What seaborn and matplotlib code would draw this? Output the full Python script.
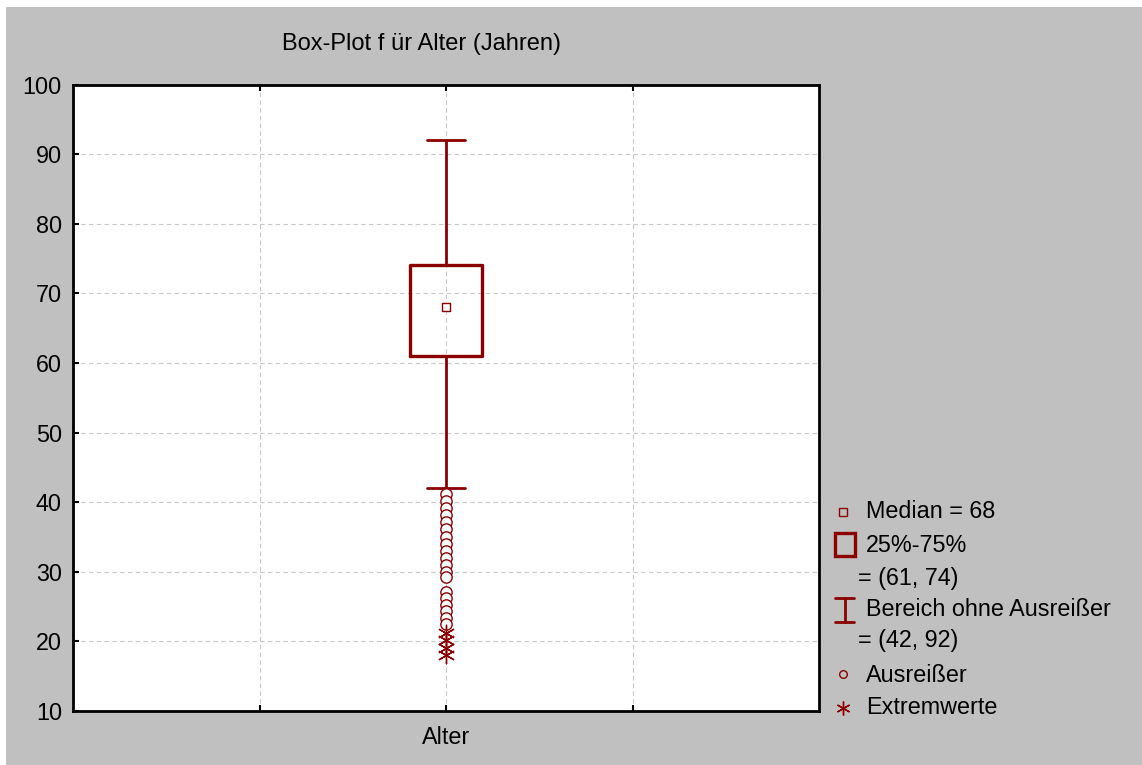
import matplotlib
matplotlib.use("Agg")
import matplotlib.pyplot as plt
from matplotlib.patches import Rectangle
import seaborn as sns
import pandas as pd

# ---- data ----
categories = ["Alter"]
median = 68
q1, q3 = 61, 74
whisker_low, whisker_high = 42, 92
outliers = [41.2, 40.2, 39.2, 38.2, 37.2, 36.1, 35.0, 34.0, 33.0, 32.0, 31.0,
            30.0, 29.2, 27.1, 26.2, 25.2, 24.3, 23.3, 22.5]
extremes = [21.2, 20.2, 19.0, 18.0]
yticks = [10, 20, 30, 40, 50, 60, 70, 80, 90, 100]

title = "Box-Plot f ür Alter (Jahren)"
legend_lines = ["Median = 68", "25%-75%", "= (61, 74)", "Bereich ohne Ausreißer",
                "= (42, 92)", "Ausreißer", "Extremwerte"]

RED = "#8B0000"
GRAY_BG = "#c0c0c0"
FS = 16.8

sns.set_style("white")
plt.rcParams["font.family"] = ["Liberation Sans", "DejaVu Sans"]

W, H = 1142, 765
fig = plt.figure(figsize=(W / 100, H / 100), dpi=100)
fig.patch.set_facecolor("white")
fig.patches.append(Rectangle((6 / W, 0), 1 - 6 / W, 1 - 7 / H, transform=fig.transFigure,
                             facecolor=GRAY_BG, edgecolor="none", zorder=-10))

ax = fig.add_axes([73 / W, 1 - 711 / H, (819 - 73) / W, (711 - 84.5) / H])
ax.set_facecolor("white")

# box + whiskers
stats = [dict(med=median, q1=q1, q3=q3, whislo=whisker_low, whishi=whisker_high,
              fliers=[], label=categories[0])]
ax.bxp(stats, positions=[0], widths=0.39, capwidths=0.2, showfliers=False,
       boxprops=dict(color=RED, linewidth=2.4),
       whiskerprops=dict(color=RED, linewidth=2.0),
       capprops=dict(color=RED, linewidth=2.0),
       medianprops=dict(linewidth=0), zorder=3)

# median marker, outliers, extremes via seaborn
df_med = pd.DataFrame({"x": [0], "y": [median]})
sns.scatterplot(data=df_med, x="x", y="y", ax=ax, marker="s", s=40,
                facecolor="white", edgecolor=RED, linewidth=1.0, zorder=5)
df_out = pd.DataFrame({"x": [0] * len(outliers), "y": outliers})
sns.scatterplot(data=df_out, x="x", y="y", ax=ax, marker="o", s=66,
                facecolor="white", edgecolor=RED, linewidth=1.0, zorder=5)
df_ext = pd.DataFrame({"x": [0] * len(extremes), "y": extremes})
sns.scatterplot(data=df_ext, x="x", y="y", ax=ax, marker=(6, 2, 0), s=140,
                color=RED, linewidth=1.0, zorder=5)

ax.set_xlim(-2, 2)
ax.set_ylim(10, 100)
ax.set_yticks(yticks)
ax.set_yticklabels([str(t) for t in yticks])
ax.set_xticks([-1, 0, 1])
ax.set_xticklabels(["", categories[0], ""])
ax.set_xlabel("")
ax.set_ylabel("")
ax.grid(True, color="#c8c8c8", linestyle=(0, (4, 3)), linewidth=0.8)
ax.set_axisbelow(True)
ax.tick_params(axis="both", direction="in", length=4, width=1.5, colors="black",
               labelsize=FS, pad=8, top=True, bottom=True, left=True, right=False)
ax.tick_params(axis="x", pad=11)
for s in ax.spines.values():
    s.set_color("black")
    s.set_linewidth(2.0)
    s.set_visible(True)

fig.text(421 / W, 1 - 44 / H, title, ha="center", va="center", fontsize=17, color="black")

# legend in pixel coordinates
lg = fig.add_axes([0, 0, 1, 1], facecolor="none")
lg.set_xlim(0, W)
lg.set_ylim(H, 0)
lg.axis("off")
lg.plot([843], [512], marker="s", markersize=6, markerfacecolor="none",
        markeredgecolor=RED, markeredgewidth=1.0, linestyle="none")
lg.add_patch(Rectangle((835, 533), 20, 23, facecolor="none", edgecolor=RED, linewidth=2.4))
lg.plot([844.5, 844.5], [598, 622], color=RED, linewidth=2.0)
lg.plot([835, 854], [598, 598], color=RED, linewidth=2.0)
lg.plot([835, 854], [622, 622], color=RED, linewidth=2.0)
lg.plot([843], [674], marker="o", markersize=5.5, markerfacecolor="none",
        markeredgecolor=RED, markeredgewidth=1.0, linestyle="none")
lg.plot([843], [708], marker=(6, 2, 0), markersize=10, color=RED,
        markeredgewidth=1.0, linestyle="none")
text_pos = [(866, 512), (866, 546), (858, 578), (866, 609), (858, 641), (866, 675), (866, 707)]
for (x, y), t in zip(text_pos, legend_lines):
    lg.text(x, y, t, ha="left", va="center", fontsize=FS, color="black")

fig.savefig("out.png", dpi=100, facecolor=fig.get_facecolor())
